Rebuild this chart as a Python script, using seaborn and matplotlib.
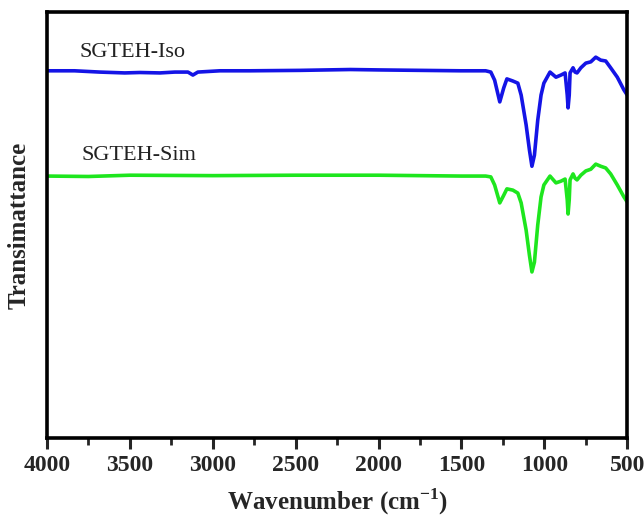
import matplotlib
matplotlib.use('Agg')
import matplotlib.pyplot as plt
import seaborn as sns
from matplotlib.ticker import MultipleLocator

# wavenumbers (cm-1) and transmittance (a.u.)
wn_iso = [4000, 3834, 3682, 3531, 3440, 3319, 3229, 3150, 3120, 3090, 2957, 2775,
          2473, 2170, 1989, 1747, 1505, 1354, 1323, 1300, 1269, 1245, 1226, 1190,
          1160, 1140, 1110, 1090, 1075, 1060, 1040, 1020, 1003, 966, 930, 900,
          875, 862, 857, 850, 845, 827, 815, 803, 780, 750, 720, 690, 660, 630,
          600, 560, 520, 500]
t_iso = [86.2, 86.2, 85.9, 85.7, 85.8, 85.7, 85.9, 85.9, 85.2, 85.9, 86.2, 86.2,
         86.3, 86.5, 86.4, 86.3, 86.2, 86.2, 85.9, 84.0, 78.9, 82.2, 84.3, 83.8,
         83.3, 80.5, 73.5, 67.6, 63.8, 66.4, 74.6, 80.5, 83.3, 85.9, 84.7, 85.2,
         85.7, 80.5, 77.5, 80.5, 85.7, 86.9, 85.9, 85.7, 86.9, 88.0, 88.3, 89.4,
         88.7, 88.5, 86.9, 84.7, 81.7, 80.5]

wn_sim = [4000, 3750, 3500, 3000, 2500, 2000, 1500, 1354, 1323, 1300, 1269, 1245,
          1226, 1190, 1160, 1140, 1110, 1090, 1075, 1060, 1040, 1020, 1003, 966,
          930, 900, 875, 862, 857, 850, 845, 827, 815, 803, 780, 750, 720, 690,
          660, 630, 600, 560, 520, 500]
t_sim = [61.5, 61.4, 61.7, 61.6, 61.7, 61.7, 61.5, 61.5, 61.3, 59.4, 55.2, 57.0,
         58.5, 58.2, 57.5, 55.2, 48.8, 42.9, 39.0, 41.3, 50.0, 56.6, 59.4, 61.5,
         59.9, 60.3, 60.8, 55.9, 52.6, 55.9, 60.6, 62.0, 61.0, 60.6, 61.7, 62.7,
         63.1, 64.3, 63.8, 63.4, 62.0, 59.4, 56.6, 55.4]

labels = ['SGTEH-Iso', 'SGTEH-Sim']
label_pos = [(3805, 90.6), (3792, 66.4)]
colors = ['#1414e6', '#1ee61e']

sns.set_style('white')
plt.rcParams['font.family'] = ['Liberation Serif', 'DejaVu Serif']
plt.rcParams['mathtext.fontset'] = 'custom'
plt.rcParams['mathtext.rm'] = 'Liberation Serif'
plt.rcParams['mathtext.bf'] = 'Liberation Serif:bold'

fig = plt.figure(figsize=(6.44, 5.21), dpi=100)
ax = fig.add_axes([0.073, 0.159, 0.901, 0.818])

sns.lineplot(x=wn_iso, y=t_iso, sort=False, color=colors[0], lw=2.6, ax=ax)
sns.lineplot(x=wn_sim, y=t_sim, sort=False, color=colors[1], lw=2.6, ax=ax)

for lab, (x, y) in zip(labels, label_pos):
    ax.text(x, y, lab, fontsize=16, va='center', ha='left', color='#222222')

ax.set_xlim(4000, 500)
ax.set_ylim(0, 100)
ax.xaxis.set_major_locator(MultipleLocator(500))
ax.xaxis.set_minor_locator(MultipleLocator(250))
ax.set_yticks([])
ax.tick_params(axis='x', which='major', direction='out', length=8, width=2.2,
               bottom=True, labelsize=17, pad=4)
ax.tick_params(axis='x', which='minor', direction='out', length=5, width=2,
               bottom=True)
for lbl in ax.get_xticklabels():
    lbl.set_fontweight('bold')
for sp in ax.spines.values():
    sp.set_linewidth(2.6)
    sp.set_color('black')

ax.set_xlabel('Wavenumber (cm$^{\\mathbf{-1}}$)', fontsize=18, fontweight='bold',
              labelpad=8)
ax.set_ylabel('Transimattance', fontsize=18, fontweight='bold', labelpad=12)

fig.savefig('out.png', dpi=100)
